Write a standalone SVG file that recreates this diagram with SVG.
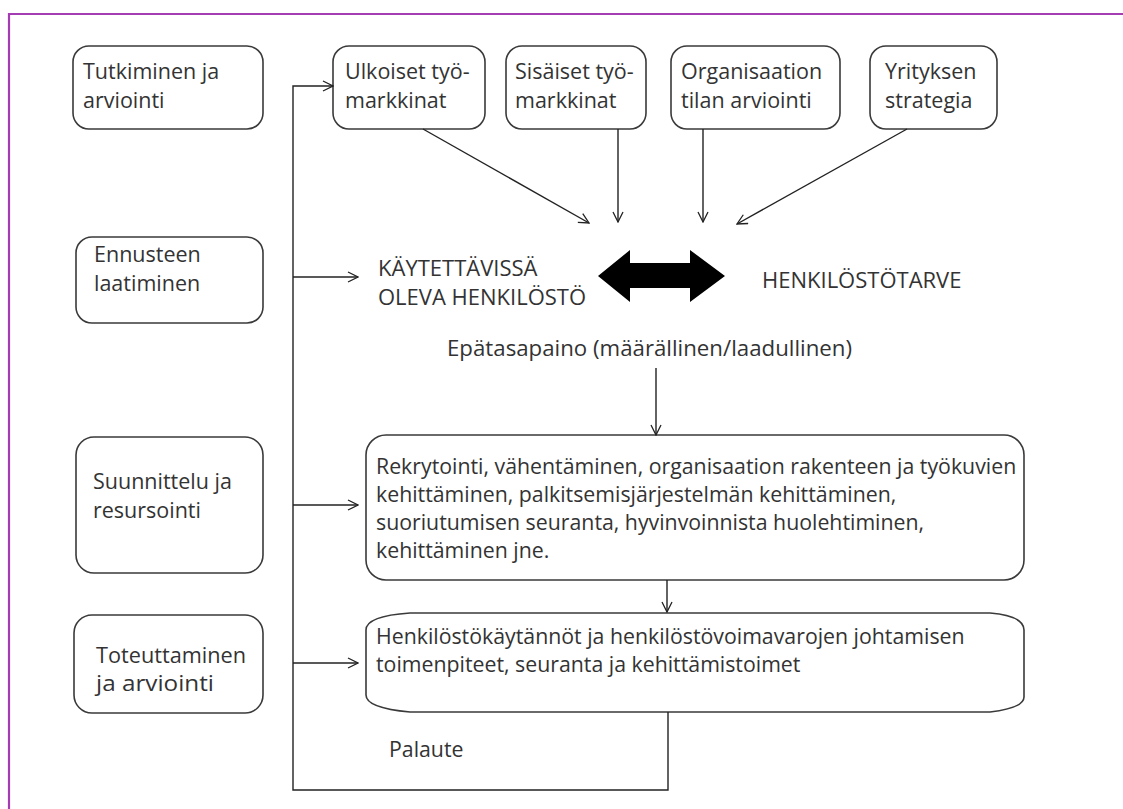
<svg xmlns="http://www.w3.org/2000/svg" width="1123" height="809" viewBox="0 0 1123 809">
<defs>
<style>
.box{fill:#fff;stroke:#3a3a3a;stroke-width:1.6}
.t{font-family:"Open Sans","Noto Sans",sans-serif;font-size:21.3px;fill:#333}
.l{font-family:"Open Sans","Noto Sans",sans-serif;font-size:21.5px;fill:#333}
.c{font-family:"Open Sans","Noto Sans",sans-serif;font-size:22px;fill:#333}
.ln{fill:none;stroke:#222;stroke-width:1.4}
</style>
<marker id="ah" viewBox="0 0 12 12" refX="11" refY="6" markerWidth="12" markerHeight="12" markerUnits="userSpaceOnUse" orient="auto">
<path d="M1,1 L11,6 L1,11" fill="none" stroke="#222" stroke-width="1.3"/>
</marker>
</defs>
<rect width="1123" height="809" fill="#fff"/>
<path d="M1123,14 H9 V809" fill="none" stroke="#a43cb4" stroke-width="2.2"/>

<g id="n-tutkiminen"><rect class="box" x="73" y="46" width="190" height="83" rx="16"/><text class="l" x="83" y="79">Tutkiminen ja</text><text class="l" x="83" y="108">arviointi</text></g>
<g id="n-ulkoiset"><rect class="box" x="333" y="46" width="152" height="83" rx="16"/><text class="l" x="345" y="79">Ulkoiset työ-</text><text class="l" x="345" y="108">markkinat</text></g>
<g id="n-sisaiset"><rect class="box" x="506" y="46" width="140" height="83" rx="16"/><text class="l" x="515" y="79">Sisäiset työ-</text><text class="l" x="515" y="108">markkinat</text></g>
<g id="n-organisaatio"><rect class="box" x="671" y="46" width="169" height="83" rx="16"/><text class="l" x="681" y="79">Organisaation</text><text class="l" x="681" y="108">tilan arviointi</text></g>
<g id="n-strategia"><rect class="box" x="870" y="46" width="127" height="83" rx="16"/><text class="l" x="885" y="79">Yrityksen</text><text class="l" x="885" y="108">strategia</text></g>

<g id="n-ennusteen"><rect class="box" x="76" y="237" width="187" height="86" rx="16"/><text class="l" x="94" y="262">Ennusteen</text><text class="l" x="94" y="291">laatiminen</text></g>
<g id="n-suunnittelu"><rect class="box" x="76" y="437" width="187" height="136" rx="18"/><text class="l" x="93" y="489">Suunnittelu ja</text><text class="l" x="93" y="518">resursointi</text></g>
<g id="n-toteuttaminen"><rect class="box" x="74" y="615" width="189" height="98" rx="18"/><text class="l" x="96" y="663" textLength="150" lengthAdjust="spacingAndGlyphs">Toteuttaminen</text><text class="l" x="96" y="691" textLength="118" lengthAdjust="spacingAndGlyphs">ja arviointi</text></g>

<g id="n-kaytettavissa"><text class="c" x="378" y="276">KÄYTETTÄVISSÄ</text><text class="c" x="378" y="305">OLEVA HENKILÖSTÖ</text></g>
<g id="n-tarve"><text class="c" x="762" y="288">HENKILÖSTÖTARVE</text></g>
<g id="n-epatasapaino"><text class="t" x="447" y="356" textLength="405" lengthAdjust="spacingAndGlyphs">Epätasapaino (määrällinen/laadullinen)</text></g>
<g id="n-toimenpiteet"><rect class="box" x="366" y="435" width="658" height="145" rx="20"/>
<text class="t" x="376" y="474">Rekrytointi, vähentäminen, organisaation rakenteen ja työkuvien</text>
<text class="t" x="376" y="502">kehittäminen, palkitsemisjärjestelmän kehittäminen,</text>
<text class="t" x="376" y="530">suoriutumisen seuranta, hyvinvoinnista huolehtiminen,</text>
<text class="t" x="376" y="558">kehittäminen jne.</text></g>
<g id="n-kaytannot"><path class="box" d="M410,613 H990 Q1024,616 1024,630 V697 Q1024,708 990,712 H410 Q366,708 366,695 V630 Q366,616 410,613 Z"/>
<text class="t" x="376" y="644">Henkilöstökäytännöt ja henkilöstövoimavarojen johtamisen</text>
<text class="t" x="376" y="672">toimenpiteet, seuranta ja kehittämistoimet</text></g>
<g id="n-palaute"><text class="t" x="389" y="757">Palaute</text></g>

<g id="connectors">
<path class="ln" d="M668,712 V790 H293 V86 H333" marker-end="url(#ah)"/>
<path class="ln" d="M293,277 H358" marker-end="url(#ah)"/>
<path class="ln" d="M293,505 H358" marker-end="url(#ah)"/>
<path class="ln" d="M293,663 H358" marker-end="url(#ah)"/>
<path class="ln" d="M423,129 L589,223" marker-end="url(#ah)"/>
<path class="ln" d="M618,129 V222" marker-end="url(#ah)"/>
<path class="ln" d="M703,129 V222" marker-end="url(#ah)"/>
<path class="ln" d="M907,129 L737,224" marker-end="url(#ah)"/>
<path class="ln" d="M656,368 V435" marker-end="url(#ah)"/>
<path class="ln" d="M667,580 V612" marker-end="url(#ah)"/>
<polygon points="598,276 630,250 630,263 690,263 690,250 725,276 690,302 690,288 630,288 630,302" fill="#000"/>
</g>
</svg>
